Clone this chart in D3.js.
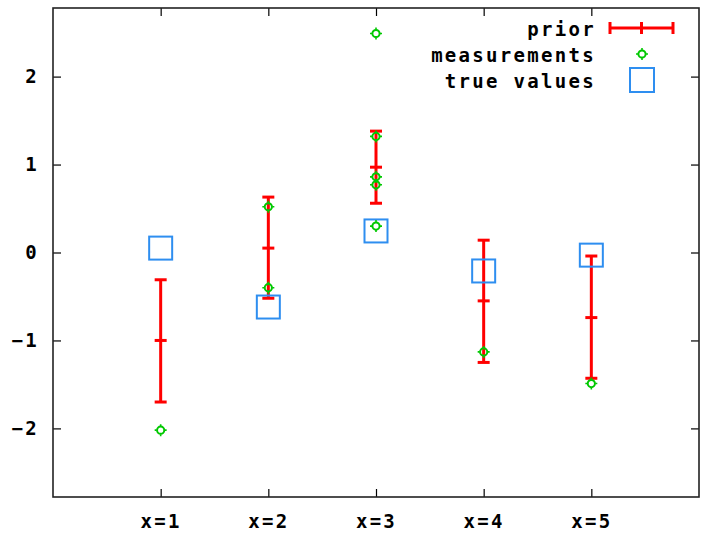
<!DOCTYPE html>
<html>
<head>
<meta charset="utf-8">
<script src="https://cdn.jsdelivr.net/npm/d3@7"></script>
<style>
  body { margin: 0; background: #fff; }
  text { font-family: "DejaVu Sans Mono", monospace; font-weight: bold; font-size: 19px; letter-spacing: 2.3px; fill: #000; }
</style>
</head>
<body>
<div id="chart"></div>
<script>
// categories and values
var categories = [1, 2, 3, 4, 5];
var tickLabels = ["x=1", "x=2", "x=3", "x=4", "x=5"];
var yTicks = [-2, -1, 0, 1, 2];

var priorMean = [-1.0, 0.05, 0.97, -0.55, -0.74];
var priorLow  = [-1.70, -0.52, 0.56, -1.25, -1.43];
var priorHigh = [-0.31, 0.63, 1.38, 0.14, -0.04];

var measX = [1, 2, 2, 3, 3, 3, 3, 3, 4, 5];
var measY = [-2.02, 0.52, -0.40, 2.49, 1.32, 0.86, 0.77, 0.30, -1.13, -1.49];

var trueValues = [0.05, -0.62, 0.245, -0.21, -0.03];

var width = 701, height = 535;
var margin = {top: 8, right: 2, bottom: 38, left: 53};
var w = width - margin.left - margin.right,
    h = height - margin.top - margin.bottom;

var svg = d3.select("#chart").append("svg")
    .attr("width", width)
    .attr("height", height);

var g = svg.append("g")
    .attr("transform", "translate(" + margin.left + "," + margin.top + ")");

var x = d3.scaleLinear().domain([0, 6]).range([0, w]);
var y = d3.scaleLinear().domain([-2.78, 2.78]).range([h, 0]);

var red = "#ff0000", green = "#00c800", blue = "#2e8ef0";
var tickLen = 8;

//********** AXES ************
var xAxis = d3.axisBottom(x).tickValues(categories)
    .tickFormat(function(d, i) { return tickLabels[i]; })
    .tickSizeInner(-tickLen).tickSizeOuter(0).tickPadding(18);
var yAxis = d3.axisLeft(y).tickValues(yTicks)
    .tickFormat(d3.format("d"))
    .tickSizeInner(-tickLen).tickSizeOuter(0).tickPadding(14);

g.append("g").attr("transform", "translate(0," + h + ")").call(xAxis);
g.append("g").call(yAxis);
g.append("g").call(d3.axisTop(x).tickValues(categories).tickFormat("").tickSizeInner(-tickLen).tickSizeOuter(0));
g.append("g").attr("transform", "translate(" + w + ",0)")
    .call(d3.axisRight(y).tickValues(yTicks).tickFormat("").tickSizeInner(-tickLen).tickSizeOuter(0));

g.selectAll(".domain").remove();
g.selectAll(".tick line").attr("stroke", "#000").attr("stroke-width", 1.2);
g.selectAll(".tick text").style("font-size", "19px").style("font-family", "DejaVu Sans Mono").style("font-weight", "bold");

g.append("rect")
    .attr("width", w).attr("height", h)
    .attr("fill", "none").attr("stroke", "#222").attr("stroke-width", 1.6);

// error bars
var capW = 12;
var bars = g.selectAll(".prior").data(categories).enter().append("g").attr("class", "prior")
    .attr("stroke", red).attr("stroke-width", 3);
bars.append("line")
    .attr("x1", function(d) { return x(d); }).attr("x2", function(d) { return x(d); })
    .attr("y1", function(d, i) { return y(priorLow[i]); })
    .attr("y2", function(d, i) { return y(priorHigh[i]); });
[priorLow, priorHigh, priorMean].forEach(function(arr) {
    bars.append("line")
        .attr("x1", function(d) { return x(d) - capW / 2; })
        .attr("x2", function(d) { return x(d) + capW / 2; })
        .attr("y1", function(d, i) { return y(arr[i]); })
        .attr("y2", function(d, i) { return y(arr[i]); });
});

// true values
var sq = 23;
g.selectAll(".truth").data(trueValues).enter().append("rect")
    .attr("x", function(d, i) { return x(categories[i]) - sq / 2; })
    .attr("y", function(d) { return y(d) - sq / 2; })
    .attr("width", sq).attr("height", sq)
    .attr("fill", "none").attr("stroke", blue).attr("stroke-width", 2);

// measurement marker: small ring with four nubs
function marker(sel) {
    sel.append("circle").attr("r", 3.6)
        .attr("fill", "none").attr("stroke", green).attr("stroke-width", 2);
    sel.append("path").attr("d", "M0,-6V-4M0,4V6M-6,0H-4M4,0H6")
        .attr("stroke", green).attr("stroke-width", 1.6);
}

g.selectAll(".meas").data(measY).enter().append("g").attr("class", "meas")
    .attr("transform", function(d, i) { return "translate(" + x(measX[i]) + "," + y(d) + ")"; })
    .call(marker);

// legend
var legend = svg.append("g");
var legendNames = ["prior", "measurements", "true values"];
legend.selectAll("text").data(legendNames).enter().append("text")
    .attr("x", 596)
    .attr("y", function(d, i) { return 29 + i * 26; })
    .attr("dy", ".35em")
    .style("text-anchor", "end")
    .text(function(d) { return d; });

var lg = legend.append("g").attr("stroke", red).attr("stroke-width", 3);
lg.append("line").attr("x1", 610).attr("x2", 673).attr("y1", 28).attr("y2", 28);
[610, 641.5, 673].forEach(function(px) {
    lg.append("line").attr("x1", px).attr("x2", px).attr("y1", 22).attr("y2", 34);
});
legend.append("g").attr("transform", "translate(642,54)").call(marker);
legend.append("rect").attr("x", 630).attr("y", 68).attr("width", 24).attr("height", 24)
    .attr("fill", "none").attr("stroke", blue).attr("stroke-width", 2);
</script>
</body>
</html>
